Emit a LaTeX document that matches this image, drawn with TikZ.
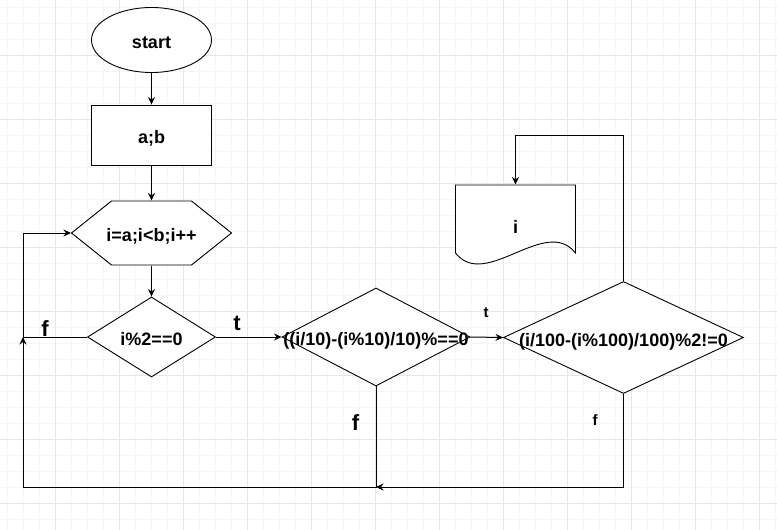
\documentclass[tikz,border=0pt]{standalone}
\usepackage{fontspec}
\setmainfont{Liberation Sans}
\usetikzlibrary{shapes.geometric,arrows.meta}
\definecolor{gridminor}{HTML}{F5F5F5}
\definecolor{gridmajor}{HTML}{E6E6E6}
\begin{document}
\begin{tikzpicture}[x=1pt,y=-1pt,line width=1pt,
  >={Stealth[length=7.5pt,width=7pt]},
  every node/.style={inner sep=0pt},
  txt/.style={font=\bfseries\fontsize{18}{21}\selectfont,text height=17pt,text depth=0pt},
  shapeline/.style={draw,fill=white,line width=0.9pt},
  termbox/.style={shapeline,txt,ellipse,minimum width=120pt,minimum height=65pt},
  procbox/.style={shapeline,txt,rectangle,minimum width=120pt,minimum height=60pt},
  decbox/.style={shapeline,txt,diamond},
  bigtag/.style={font=\bfseries\fontsize{22}{26}\selectfont},
  smalltag/.style={font=\bfseries\fontsize{15}{18}\selectfont}]

\useasboundingbox (0,0) rectangle (777,530);
\fill[white] (0,0) rectangle (777,530);
\foreach \gx in {7,23,...,775} \draw[gridminor] (\gx,0)--(\gx,530);
\foreach \gy in {7,23,...,527} \draw[gridminor] (0,\gy)--(777,\gy);
\foreach \gx in {55,119,...,759} \draw[gridmajor] (\gx,0)--(\gx,530);
\foreach \gy in {55,119,...,503} \draw[gridmajor] (0,\gy)--(777,\gy);

\node[termbox] (start) at (151.5,40) {start};
\node[procbox] (ab) at (151.5,135) {a;b};

\filldraw[shapeline] (71.5,233)--(111.5,201)--(191.5,201)--(231.5,233)--(191.5,265)--(111.5,265)--cycle;
\node[txt,minimum width=160pt,minimum height=64pt] (loop) at (151.5,233) {i=a;i<b;i++};

\node[decbox,minimum width=128pt,minimum height=80pt] (d1) at (151.5,337) {\makebox[0pt]{i\%2==0}};
\node[decbox,minimum width=188pt,minimum height=98pt] (d2) at (376,337) {\makebox[0pt]{((i/10)-(i\%10)/10)\%==0}};
\node[decbox,minimum width=240pt,minimum height=112pt] (d3) at (623.5,337.5) {\makebox[0pt]{(i/100-(i\%100)/100)\%2!=0}};

\filldraw[shapeline] (455.5,185)--(575.5,185)--(575.5,253)
  .. controls (545.5,215) and (485.5,291) .. (455.5,253)--cycle;
\node[txt,minimum width=120pt,minimum height=80pt] (out) at (515.5,225) {i};

\coordinate (jl) at (23,337);
\coordinate (jb) at (23,487);
\coordinate (jt) at (623.5,135);

\draw[->] (start)--(ab);
\draw[->] (ab)--(loop);
\draw[->] (loop)--(d1);
\draw[->] (d1.west)--(jl)|-(loop.west);
\draw[->] (d1.east)--(d2.west);
\draw[->] (d2.east)--(d3.west);
\draw[->] (d3.north)--(jt)-|(out.north);
\draw[->] (d2.south)|-(jb)--(jl);
\draw[->] (d3.south)|-(d2.south|-jb);

\node[bigtag] (f1) at (45,329) {f};
\node[bigtag] (t1) at (237,323) {t};
\node[smalltag] (t2) at (486,313) {t};
\node[bigtag] (f2) at (355.5,423) {f};
\node[smalltag] (f3) at (595,420) {f};

\end{tikzpicture}
\end{document}
